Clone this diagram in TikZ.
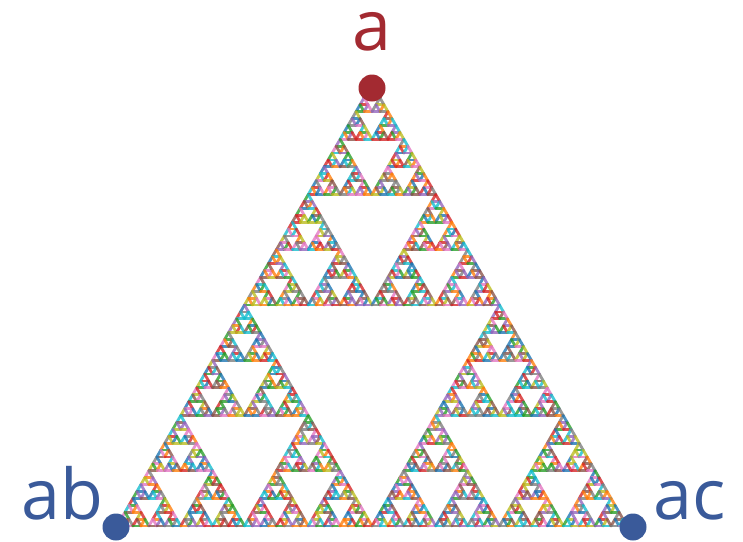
\documentclass[tikz,border=0pt]{standalone}
\usepackage{fontspec}
\setmainfont{Open Sans}
\definecolor{tc0}{HTML}{1F77B4}
\definecolor{tc1}{HTML}{FF7F0E}
\definecolor{tc2}{HTML}{2CA02C}
\definecolor{tc3}{HTML}{D62728}
\definecolor{tc4}{HTML}{9467BD}
\definecolor{tc5}{HTML}{8C564B}
\definecolor{tc6}{HTML}{E377C2}
\definecolor{tc7}{HTML}{7F7F7F}
\definecolor{tc8}{HTML}{BCBD22}
\definecolor{tc9}{HTML}{17BECF}
\definecolor{dotred}{HTML}{A32A31}
\definecolor{dotblue}{HTML}{3A5A9A}
\newcommand{\myedge}[2]{\pgfmathrandominteger{\ci}{0}{9}\draw[seg,color=tc\ci] #1 -- #2;}
\tikzset{
  seg/.style={line width=2.8pt, line cap=round, opacity=0.8},
  vdot/.style={circle, inner sep=0pt, minimum size=27pt},
  lbl/.style={inner sep=0pt, font=\fontsize{70}{70}\selectfont}
}
\begin{document}
\begin{tikzpicture}[x=1pt,y=-1pt]
\useasboundingbox (0,0) rectangle (743,541);
\pgfmathsetseed{7}
\begin{scope}[shift={(372,84)}]
\foreach \a/\ay in {0/0,-1/1,1/1}{
\begin{scope}[shift={(\a*127.5,\ay*221)}]
\foreach \b/\by in {0/0,-1/1,1/1}{
\begin{scope}[shift={(\b*63.75,\by*110.5)}]
\foreach \c/\cy in {0/0,-1/1,1/1}{
\begin{scope}[shift={(\c*31.875,\cy*55.25)}]
\foreach \d/\dy in {0/0,-1/1,1/1}{
\begin{scope}[shift={(\d*15.9375,\dy*27.625)}]
\foreach \e/\ey in {0/0,-1/1,1/1}{
\begin{scope}[shift={(\e*7.96875,\ey*13.8125)}]
\foreach \f/\fy in {0/0,-1/1,1/1}{
\begin{scope}[shift={(\f*3.984375,\fy*6.90625)}]
\myedge{(0,0)}{(-3.984375,6.90625)}
\myedge{(-3.984375,6.90625)}{(3.984375,6.90625)}
\myedge{(3.984375,6.90625)}{(0,0)}
\end{scope}}
\end{scope}}
\end{scope}}
\end{scope}}
\end{scope}}
\end{scope}}
\end{scope}
\node[vdot, fill=dotred] (va) at (372,88) {};
\node[vdot, fill=dotblue] (vb) at (116,527) {};
\node[vdot, fill=dotblue] (vc) at (633,527) {};
\node[lbl, anchor=base, text=dotred] (la) at (372,50) {a};
\node[lbl, anchor=base west, text=dotblue] (lb) at (21,519) {ab};
\node[lbl, anchor=base west, text=dotblue] (lc) at (653,519) {ac};
\end{tikzpicture}
\end{document}
